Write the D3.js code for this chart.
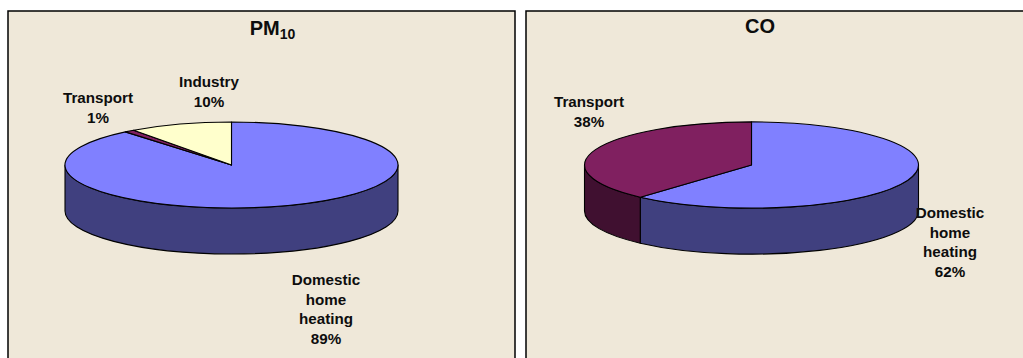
<!DOCTYPE html>
<html><head><meta charset="utf-8">
<script src="https://cdn.jsdelivr.net/npm/d3@7"></script>
<style>html,body{margin:0;padding:0;background:#fff;overflow:hidden}svg{display:block}
text{font-family:"Liberation Sans",Arial,sans-serif;font-weight:bold;fill:#0d0d0d;text-anchor:middle}</style>
</head><body><svg id="c" width="1023" height="358"></svg>
<script>
// Data
const pmCategories = ["Domestic home heating", "Transport", "Industry"];
const pmValues = [89, 1, 10];
const coCategories = ["Domestic home heating", "Transport"];
const coValues = [61.6, 38.4];
const topColors = {"Domestic home heating":"#8080FF","Transport":"#802060","Industry":"#FFFFCC"};
const sideColors = {"Domestic home heating":"#40407F","Transport":"#401030","Industry":"#7F7F66"};

// Layout
const svg = d3.select("#c");
const panels = [
  {title:"PM", sub:"10", cats:pmCategories, vals:pmValues, box:[8,11,507,360], cx:231.5, cy:165, rx:166.5, titleX:272.5, titleY:35,
   labels:{"Domestic home heating":{x:326,y:285,lines:["Domestic","home","heating"]},
           "Transport":{x:98,y:103,lines:["Transport"]},
           "Industry":{x:209,y:87,lines:["Industry"]}}},
  {title:"CO", sub:null, cats:coCategories, vals:coValues, box:[526,11,510,360], cx:751.5, cy:165, rx:167, titleX:760, titleY:33,
   labels:{"Domestic home heating":{x:950,y:218,lines:["Domestic","home","heating"]},
           "Transport":{x:589,y:107,lines:["Transport"]}}}
];
const tilt = 43/166.5, depth = 46;

panels.forEach(p=>{
  svg.append("rect").attr("x",p.box[0]).attr("y",p.box[1]).attr("width",p.box[2]).attr("height",p.box[3])
    .attr("fill","#EFE8D9").attr("stroke","#000").attr("stroke-width",1.5);

  const ry = p.rx*tilt;
  const arcs = d3.pie().sort(null).value(d=>d.v)(p.cats.map((c,i)=>({c,v:p.vals[i]})));
  const pt = (a,dy=0)=>[p.cx+p.rx*Math.sin(a), p.cy-ry*Math.cos(a)+dy];

  // side walls: only the front half (pi/2 .. 3pi/2 clockwise from the top)
  const wall = svg.append("g");
  arcs.forEach(a=>{
    const s=Math.max(a.startAngle,Math.PI/2), e=Math.min(a.endAngle,3*Math.PI/2);
    if(e<=s) return;
    const [x0,y0]=pt(s),[x1,y1]=pt(e),[x2,y2]=pt(e,depth),[x3,y3]=pt(s,depth);
    const large=(e-s)>Math.PI?1:0;
    wall.append("path")
      .attr("d",`M${x0},${y0}A${p.rx},${ry} 0 ${large} 1 ${x1},${y1}L${x2},${y2}A${p.rx},${ry} 0 ${large} 0 ${x3},${y3}Z`)
      .attr("fill",sideColors[a.data.c]).attr("stroke","#000").attr("stroke-width",1.1).attr("stroke-linejoin","round");
  });

  // top face: d3.arc flattened into an ellipse
  const arcGen = d3.arc().innerRadius(0).outerRadius(p.rx);
  svg.append("g").attr("transform",`translate(${p.cx},${p.cy}) scale(1,${tilt})`)
    .selectAll("path").data(arcs).join("path")
    .attr("d",arcGen).attr("fill",d=>topColors[d.data.c])
    .attr("stroke","#000").attr("stroke-width",1.1).attr("stroke-linejoin","round")
    .attr("vector-effect","non-scaling-stroke");

  // title
  const t = svg.append("text").attr("x",p.titleX).attr("y",p.titleY).attr("font-size",20).text(p.title);
  if(p.sub) t.append("tspan").attr("font-size",14).attr("dy",4).text(p.sub);

  // labels
  arcs.forEach(a=>{
    const l=p.labels[a.data.c];
    const lines=[...l.lines, Math.round(a.data.v)+"%"];
    const g=svg.append("text").attr("font-size",15.2);
    lines.forEach((s,i)=>g.append("tspan").attr("x",l.x).attr("y",l.y+i*19.6).text(s));
  });
});
</script></body></html>
